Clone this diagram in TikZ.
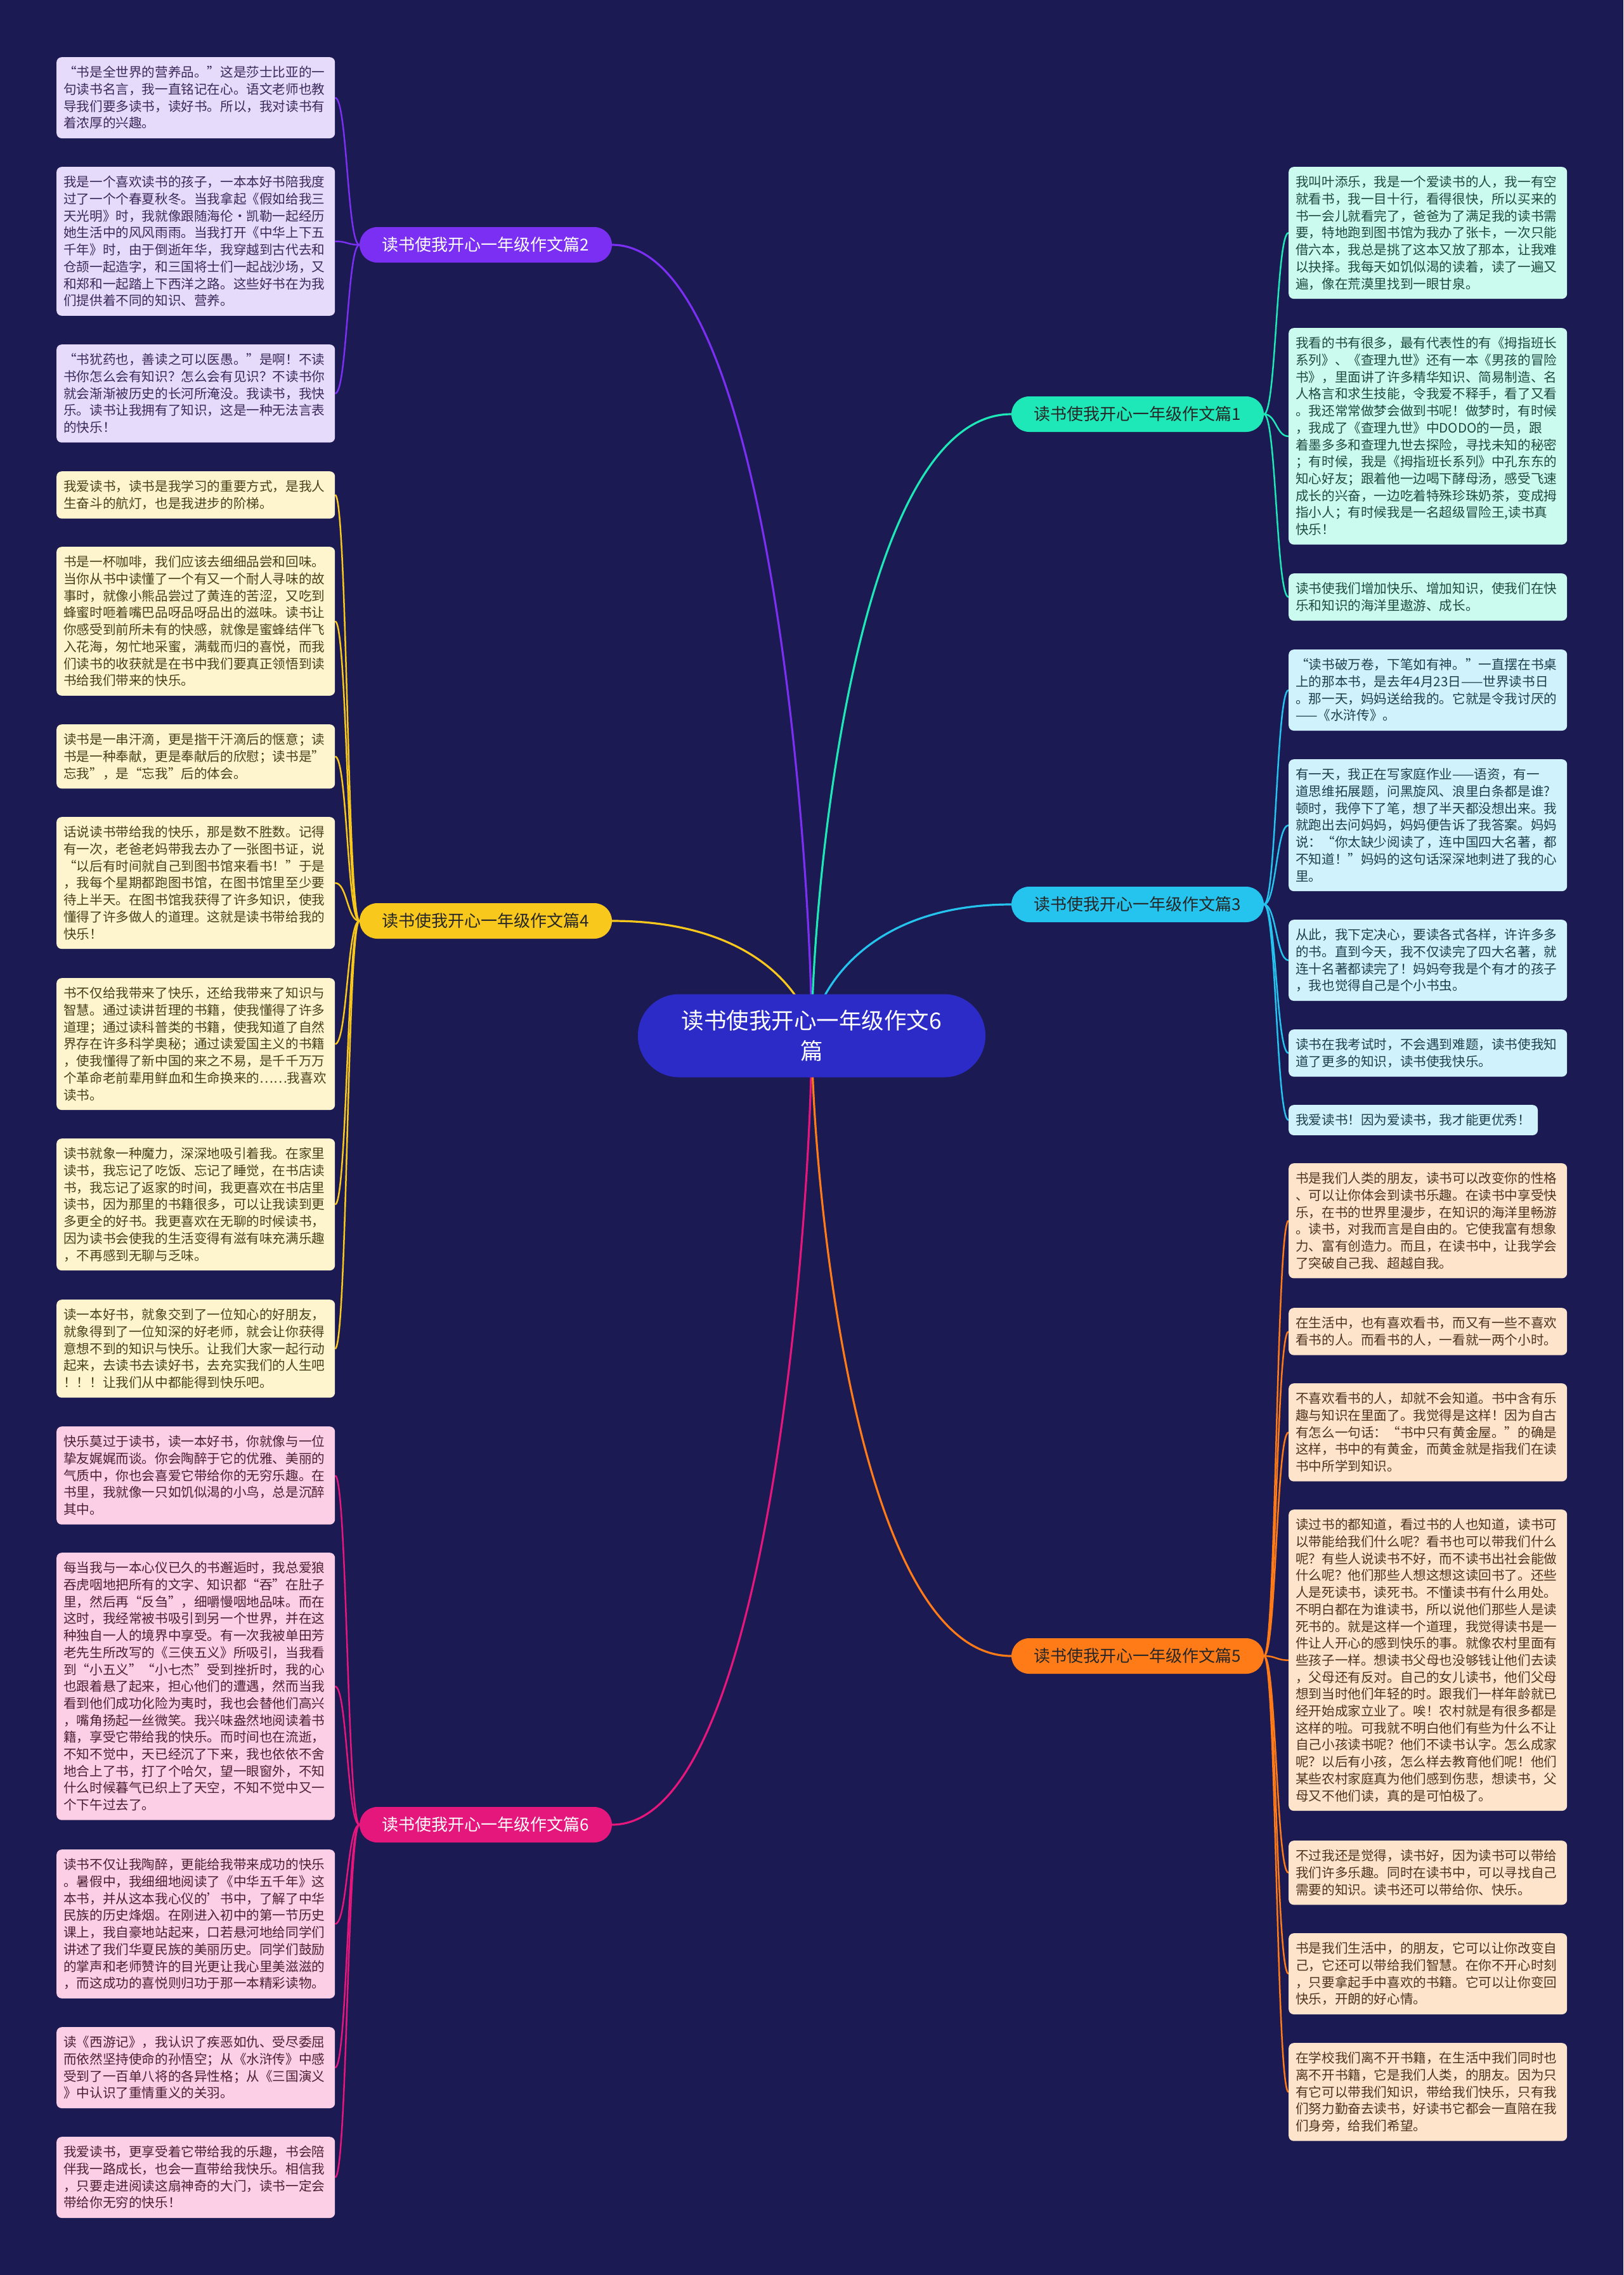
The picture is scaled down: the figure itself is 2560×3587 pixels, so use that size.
\documentclass[tikz,border=0pt]{standalone}
\usepackage{fontspec}
\setmainfont{Noto Sans CJK SC}
\usetikzlibrary{calc}
\pgfdeclarelayer{bg}
\pgfsetlayers{bg,main}
\definecolor{bgc}{HTML}{1B1A52}
\definecolor{rootc}{HTML}{2C2BC7}
\definecolor{cB}{HTML}{7B2FF2}
\definecolor{cD}{HTML}{F8C81C}
\definecolor{cF}{HTML}{E5177D}
\definecolor{cA}{HTML}{1EE8B7}
\definecolor{cC}{HTML}{25C4EF}
\definecolor{cE}{HTML}{FF7B17}
\definecolor{fB}{HTML}{E7DBFC}
\definecolor{fD}{HTML}{FEF5CE}
\definecolor{fF}{HTML}{FDCFE6}
\definecolor{fA}{HTML}{CBFAEE}
\definecolor{fC}{HTML}{CFF2FC}
\definecolor{fE}{HTML}{FEE4CA}
\definecolor{tB}{HTML}{3A2A5A}
\definecolor{tD}{HTML}{4A3F18}
\definecolor{tF}{HTML}{4D1F33}
\definecolor{tA}{HTML}{1F4A42}
\definecolor{tC}{HTML}{1D3F4E}
\definecolor{tE}{HTML}{4E3320}
\newcommand\lstrut{\rule[-5.55pt]{0pt}{26.7pt}}
\newcommand\leaffont{\fontsize{20.6pt}{26.7pt}\selectfont}
\newcommand\brfont{\fontsize{26pt}{30pt}\selectfont}
\newcommand\rootfont{\fontsize{35.5pt}{48pt}\selectfont}
% branch -> leaf connector: leaves horizontally, runs vertically, enters horizontally
\newcommand\bl[3]{\draw[#1,line width=2.5pt] (#2) .. controls ($(#2)!0.5!(#2 -| #3)$) and ($(#3)!0.5!(#3 -| #2)$) .. (#3);}
% root -> branch connector: leaves root vertically, enters branch horizontally
\newcommand\rb[2]{\draw[#1,line width=3.2pt] (root.center) .. controls ($(root.center)!0.2!(root.center |- #2)$) and ($(#2)!0.8!(root.center |- #2)$) .. (#2);}
\tikzset{
  leafbase/.style={anchor=north west, rounded corners=8pt, inner xsep=11pt, inner ysep=10.5pt, align=left, font=\leaffont},
  leaf/.style={leafbase, text width=417pt},
  lB/.style={leaf, fill=fB, text=tB},
  lD/.style={leaf, fill=fD, text=tD},
  lF/.style={leaf, fill=fF, text=tF},
  lA/.style={leaf, fill=fA, text=tA},
  lC/.style={leaf, fill=fC, text=tC},
  lE/.style={leaf, fill=fE, text=tE},
  branch/.style={rounded corners=28pt, minimum width=398pt, minimum height=56pt, inner sep=0pt, font=\brfont},
}
\begin{document}
\begin{tikzpicture}[x=1pt,y=-1pt]
\begin{pgfonlayer}{bg}
\fill[bgc] (0,0) rectangle (2560,3587);
\end{pgfonlayer}
\useasboundingbox (0,0) rectangle (2560,3587);

% root
\node[fill=rootc, text=white, rounded corners=65pt, minimum width=548pt, minimum height=131pt, align=center, font=\rootfont, inner sep=0pt] (root) at (1280,1633) {读书使我开心一年级作文6\\篇};

% branches
\node[branch, fill=cB, text=white] (b2) at (766,386) {读书使我开心一年级作文篇2};
\node[branch, fill=cD, text=black!85] (b4) at (766,1452) {读书使我开心一年级作文篇4};
\node[branch, fill=cF, text=white] (b6) at (766,2877) {读书使我开心一年级作文篇6};
\node[branch, fill=cA, text=black!85] (b1) at (1794,653) {读书使我开心一年级作文篇1};
\node[branch, fill=cC, text=black!85] (b3) at (1794,1426) {读书使我开心一年级作文篇3};
\node[branch, fill=cE, text=black!85] (b5) at (1794,2611) {读书使我开心一年级作文篇5};

% left leaves
\node[lB] (l1) at (89,90) {\lstrut“书是全世界的营养品。”这是莎士比亚的一\\句读书名言，我一直铭记在心。语文老师也教\\导我们要多读书，读好书。所以，我对读书有\\着浓厚的兴趣。\lstrut};
\node[lB] (l2) at (89,263) {\lstrut 我是一个喜欢读书的孩子，一本本好书陪我度\\过了一个个春夏秋冬。当我拿起《假如给我三\\天光明》时，我就像跟随海伦·凯勒一起经历\\她生活中的风风雨雨。当我打开《中华上下五\\千年》时，由于倒逝年华，我穿越到古代去和\\仓颉一起造字，和三国将士们一起战沙场，又\\和郑和一起踏上下西洋之路。这些好书在为我\\们提供着不同的知识、营养。\lstrut};
\node[lB] (l3) at (89,543) {\lstrut“书犹药也，善读之可以医愚。”是啊！不读\\书你怎么会有知识？怎么会有见识？不读书你\\就会渐渐被历史的长河所淹没。我读书，我快\\乐。读书让我拥有了知识，这是一种无法言表\\的快乐！\lstrut};

\node[lD] (l4) at (89,743) {\lstrut 我爱读书，读书是我学习的重要方式，是我人\\生奋斗的航灯，也是我进步的阶梯。\lstrut};
\node[lD] (l5) at (89,862) {\lstrut 书是一杯咖啡，我们应该去细细品尝和回味。\\当你从书中读懂了一个有又一个耐人寻味的故\\事时，就像小熊品尝过了黄连的苦涩，又吃到\\蜂蜜时咂着嘴巴品呀品呀品出的滋味。读书让\\你感受到前所未有的快感，就像是蜜蜂结伴飞\\入花海，匆忙地采蜜，满载而归的喜悦，而我\\们读书的收获就是在书中我们要真正领悟到读\\书给我们带来的快乐。\lstrut};
\node[lD] (l6) at (89,1142) {\lstrut 读书是一串汗滴，更是揩干汗滴后的惬意；读\\书是一种奉献，更是奉献后的欣慰；读书是”\\忘我”，是“忘我”后的体会。\lstrut};
\node[lD] (l7) at (89,1288) {\lstrut 话说读书带给我的快乐，那是数不胜数。记得\\有一次，老爸老妈带我去办了一张图书证，说\\“以后有时间就自己到图书馆来看书！”于是\\，我每个星期都跑图书馆，在图书馆里至少要\\待上半天。在图书馆我获得了许多知识，使我\\懂得了许多做人的道理。这就是读书带给我的\\快乐！\lstrut};
\node[lD] (l8) at (89,1542) {\lstrut 书不仅给我带来了快乐，还给我带来了知识与\\智慧。通过读讲哲理的书籍，使我懂得了许多\\道理；通过读科普类的书籍，使我知道了自然\\界存在许多科学奥秘；通过读爱国主义的书籍\\，使我懂得了新中国的来之不易，是千千万万\\个革命老前辈用鲜血和生命换来的……我喜欢\\读书。\lstrut};
\node[lD] (l9) at (89,1795) {\lstrut 读书就象一种魔力，深深地吸引着我。在家里\\读书，我忘记了吃饭、忘记了睡觉，在书店读\\书，我忘记了返家的时间，我更喜欢在书店里\\读书，因为那里的书籍很多，可以让我读到更\\多更全的好书。我更喜欢在无聊的时候读书，\\因为读书会使我的生活变得有滋有味充满乐趣\\，不再感到无聊与乏味。\lstrut};
\node[lD] (l10) at (89,2049) {\lstrut 读一本好书，就象交到了一位知心的好朋友，\\就象得到了一位知深的好老师，就会让你获得\\意想不到的知识与快乐。让我们大家一起行动\\起来，去读书去读好书，去充实我们的人生吧\\！！！让我们从中都能得到快乐吧。\lstrut};

\node[lF] (l11) at (89,2249) {\lstrut 快乐莫过于读书，读一本好书，你就像与一位\\挚友娓娓而谈。你会陶醉于它的优雅、美丽的\\气质中，你也会喜爱它带给你的无穷乐趣。在\\书里，我就像一只如饥似渴的小鸟，总是沉醉\\其中。\lstrut};
\node[lF] (l12) at (89,2448) {\lstrut 每当我与一本心仪已久的书邂逅时，我总爱狼\\吞虎咽地把所有的文字、知识都“吞”在肚子\\里，然后再“反刍”，细嚼慢咽地品味。而在\\这时，我经常被书吸引到另一个世界，并在这\\种独自一人的境界中享受。有一次我被单田芳\\老先生所改写的《三侠五义》所吸引，当我看\\到“小五义”“小七杰”受到挫折时，我的心\\也跟着悬了起来，担心他们的遭遇，然而当我\\看到他们成功化险为夷时，我也会替他们高兴\\，嘴角扬起一丝微笑。我兴味盎然地阅读着书\\籍，享受它带给我的快乐。而时间也在流逝，\\不知不觉中，天已经沉了下来，我也依依不舍\\地合上了书，打了个哈欠，望一眼窗外，不知\\什么时候暮气已织上了天空，不知不觉中又一\\个下午过去了。\lstrut};
\node[lF] (l13) at (89,2916) {\lstrut 读书不仅让我陶醉，更能给我带来成功的快乐\\。暑假中，我细细地阅读了《中华五千年》这\\本书，并从这本我心仪的'书中，了解了中华\\民族的历史烽烟。在刚进入初中的第一节历史\\课上，我自豪地站起来，口若悬河地给同学们\\讲述了我们华夏民族的美丽历史。同学们鼓励\\的掌声和老师赞许的目光更让我心里美滋滋的\\，而这成功的喜悦则归功于那一本精彩读物。\lstrut};
\node[lF] (l14) at (89,3196) {\lstrut 读《西游记》，我认识了疾恶如仇、受尽委屈\\而依然坚持使命的孙悟空；从《水浒传》中感\\受到了一百单八将的各异性格；从《三国演义\\》中认识了重情重义的关羽。\lstrut};
\node[lF] (l15) at (89,3369) {\lstrut 我爱读书，更享受着它带给我的乐趣，书会陪\\伴我一路成长，也会一直带给我快乐。相信我\\，只要走进阅读这扇神奇的大门，读书一定会\\带给你无穷的快乐！\lstrut};

% right leaves
\node[lA] (r1) at (2032,263) {\lstrut 我叫叶添乐，我是一个爱读书的人，我一有空\\就看书，我一目十行，看得很快，所以买来的\\书一会儿就看完了，爸爸为了满足我的读书需\\要，特地跑到图书馆为我办了张卡，一次只能\\借六本，我总是挑了这本又放了那本，让我难\\以抉择。我每天如饥似渴的读着，读了一遍又\\遍，像在荒漠里找到一眼甘泉。\lstrut};
\node[lA] (r2) at (2032,517) {\lstrut 我看的书有很多，最有代表性的有《拇指班长\\系列》、《查理九世》还有一本《男孩的冒险\\书》，里面讲了许多精华知识、简易制造、名\\人格言和求生技能，令我爱不释手，看了又看\\。我还常常做梦会做到书呢！做梦时，有时候\\，我成了《查理九世》中DODO的一员，跟\\着墨多多和查理九世去探险，寻找未知的秘密\\；有时候，我是《拇指班长系列》中孔东东的\\知心好友；跟着他一边喝下酵母汤，感受飞速\\成长的兴奋，一边吃着特殊珍珠奶茶，变成拇\\指小人；有时候我是一名超级冒险王,读书真\\快乐！\lstrut};
\node[lA] (r3) at (2032,904) {\lstrut 读书使我们增加快乐、增加知识，使我们在快\\乐和知识的海洋里遨游、成长。\lstrut};

\node[lC] (r4) at (2032,1024) {\lstrut“读书破万卷，下笔如有神。”一直摆在书桌\\上的那本书，是去年4月23日——世界读书日\\。那一天，妈妈送给我的。它就是令我讨厌的\\——《水浒传》。\lstrut};
\node[lC] (r5) at (2032,1197) {\lstrut 有一天，我正在写家庭作业——语资，有一\\道思维拓展题，问黑旋风、浪里白条都是谁?\\顿时，我停下了笔，想了半天都没想出来。我\\就跑出去问妈妈，妈妈便告诉了我答案。妈妈\\说：“你太缺少阅读了，连中国四大名著，都\\不知道！”妈妈的这句话深深地刺进了我的心\\里。\lstrut};
\node[lC] (r6) at (2032,1450) {\lstrut 从此，我下定决心，要读各式各样，许许多多\\的书。直到今天，我不仅读完了四大名著，就\\连十名著都读完了！妈妈夸我是个有才的孩子\\，我也觉得自己是个小书虫。\lstrut};
\node[lC] (r7) at (2032,1623) {\lstrut 读书在我考试时，不会遇到难题，读书使我知\\道了更多的知识，读书使我快乐。\lstrut};
\node[leafbase, fill=fC, text=tC] (r8) at (2032,1742) {\lstrut 我爱读书！因为爱读书，我才能更优秀！\lstrut};

\node[lE] (r9) at (2032,1834) {\lstrut 书是我们人类的朋友，读书可以改变你的性格\\、可以让你体会到读书乐趣。在读书中享受快\\乐，在书的世界里漫步，在知识的海洋里畅游\\。读书，对我而言是自由的。它使我富有想象\\力、富有创造力。而且，在读书中，让我学会\\了突破自己我、超越自我。\lstrut};
\node[lE] (r10) at (2032,2062) {\lstrut 在生活中，也有喜欢看书，而又有一些不喜欢\\看书的人。而看书的人，一看就一两个小时。\lstrut};
\node[lE] (r11) at (2032,2181) {\lstrut 不喜欢看书的人，却就不会知道。书中含有乐\\趣与知识在里面了。我觉得是这样！因为自古\\有怎么一句话：“书中只有黄金屋。”的确是\\这样，书中的有黄金，而黄金就是指我们在读\\书中所学到知识。\lstrut};
\node[lE] (r12) at (2032,2380) {\lstrut 读过书的都知道，看过书的人也知道，读书可\\以带能给我们什么呢？看书也可以带我们什么\\呢？有些人说读书不好，而不读书出社会能做\\什么呢？他们那些人想这想这读回书了。还些\\人是死读书，读死书。不懂读书有什么用处。\\不明白都在为谁读书，所以说他们那些人是读\\死书的。就是这样一个道理，我觉得读书是一\\件让人开心的感到快乐的事。就像农村里面有\\些孩子一样。想读书父母也没够钱让他们去读\\，父母还有反对。自己的女儿读书，他们父母\\想到当时他们年轻的时。跟我们一样年龄就已\\经开始成家立业了。唉！农村就是有很多都是\\这样的啦。可我就不明白他们有些为什么不让\\自己小孩读书呢？他们不读书认字。怎么成家\\呢？以后有小孩，怎么样去教育他们呢！他们\\某些农村家庭真为他们感到伤悲，想读书，父\\母又不他们读，真的是可怕极了。\lstrut};
\node[lE] (r13) at (2032,2902) {\lstrut 不过我还是觉得，读书好，因为读书可以带给\\我们许多乐趣。同时在读书中，可以寻找自己\\需要的知识。读书还可以带给你、快乐。\lstrut};
\node[lE] (r14) at (2032,3048) {\lstrut 书是我们生活中，的朋友，它可以让你改变自\\己，它还可以带给我们智慧。在你不开心时刻\\，只要拿起手中喜欢的书籍。它可以让你变回\\快乐，开朗的好心情。\lstrut};
\node[lE] (r15) at (2032,3221) {\lstrut 在学校我们离不开书籍，在生活中我们同时也\\离不开书籍，它是我们人类，的朋友。因为只\\有它可以带我们知识，带给我们快乐，只有我\\们努力勤奋去读书，好读书它都会一直陪在我\\们身旁，给我们希望。\lstrut};

% connectors
\begin{pgfonlayer}{bg}
\rb{cB}{b2.east}
\rb{cD}{b4.east}
\rb{cF}{b6.east}
\rb{cA}{b1.west}
\rb{cC}{b3.west}
\rb{cE}{b5.west}
\foreach \l in {l1,l2,l3}{\bl{cB}{b2.west}{\l.east}}
\foreach \l in {l4,l5,l6,l7,l8,l9,l10}{\bl{cD}{b4.west}{\l.east}}
\foreach \l in {l11,l12,l13,l14,l15}{\bl{cF}{b6.west}{\l.east}}
\foreach \r in {r1,r2,r3}{\bl{cA}{b1.east}{\r.west}}
\foreach \r in {r4,r5,r6,r7,r8}{\bl{cC}{b3.east}{\r.west}}
\foreach \r in {r9,r10,r11,r12,r13,r14,r15}{\bl{cE}{b5.east}{\r.west}}
\end{pgfonlayer}
\end{tikzpicture}
\end{document}
